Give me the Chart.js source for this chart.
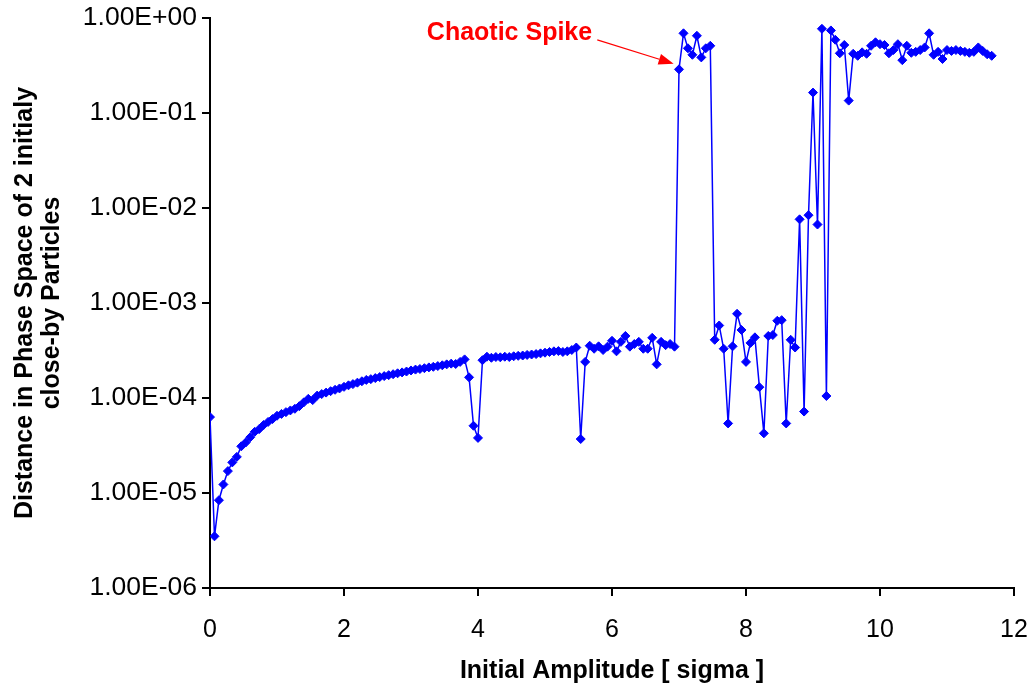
<!DOCTYPE html>
<html>
<head>
<meta charset="utf-8">
<script src="https://cdn.jsdelivr.net/npm/chart.js@4/dist/chart.umd.min.js"></script>
<style>
  html, body { margin: 0; padding: 0; background: #fff; }
</style>
</head>
<body>
<canvas id="chaosChart" width="1029" height="689"></canvas>
<script>
// initial amplitude in sigma (x) and phase-space distance (y)
const amplitude = [
  0, 0.067, 0.133, 0.2, 0.267, 0.333, 0.4, 0.467, 0.533, 0.6, 0.667, 0.733, 0.8, 0.867, 0.933,
  1, 1.067, 1.133, 1.2, 1.267, 1.333, 1.4, 1.467, 1.533, 1.6, 1.667, 1.733, 1.8, 1.867, 1.933,
  2, 2.067, 2.133, 2.2, 2.267, 2.333, 2.4, 2.467, 2.533, 2.6, 2.667, 2.733, 2.8, 2.867, 2.933,
  3, 3.067, 3.133, 3.2, 3.267, 3.333, 3.4, 3.467, 3.533, 3.6, 3.667, 3.733, 3.8, 3.867, 3.933,
  4, 4.067, 4.133, 4.2, 4.267, 4.333, 4.4, 4.467, 4.533, 4.6, 4.667, 4.733, 4.8, 4.867, 4.933,
  5, 5.067, 5.133, 5.2, 5.267, 5.333, 5.4, 5.467, 5.533, 5.6, 5.667, 5.733, 5.8, 5.867, 5.933,
  6, 6.067, 6.133, 6.2, 6.267, 6.333, 6.4, 6.467, 6.533, 6.6, 6.667, 6.733, 6.8, 6.867, 6.933,
  7, 7.067, 7.133, 7.2, 7.267, 7.333, 7.4, 7.467, 7.533, 7.6, 7.667, 7.733, 7.8, 7.867, 7.933,
  8, 8.067, 8.133, 8.2, 8.267, 8.333, 8.4, 8.467, 8.533, 8.6, 8.667, 8.733, 8.8, 8.867, 8.933,
  9, 9.067, 9.133, 9.2, 9.267, 9.333, 9.4, 9.467, 9.533, 9.6, 9.667, 9.733, 9.8, 9.867, 9.933,
  10, 10.067, 10.133, 10.2, 10.267, 10.333, 10.4, 10.467, 10.533, 10.6, 10.667, 10.733, 10.8, 10.867, 10.933,
  11, 11.067, 11.133, 11.2, 11.267, 11.333, 11.4, 11.467, 11.533, 11.6, 11.667
];

const distance = [
  6.3e-5, 3.5e-6, 8.4e-6, 1.23e-5, 1.7e-5, 2.1e-5, 2.4e-5, 3.1e-5, 3.4e-5, 3.86e-5, 4.4e-5, 4.7e-5, 5.2e-5, 5.6e-5, 6.0e-5,
  6.5e-5, 6.8e-5, 7.1e-5, 7.4e-5, 7.7e-5, 8.2e-5, 9.0e-5, 9.8e-5, 9.5e-5, 1.06e-4, 1.1e-4, 1.14e-4, 1.18e-4, 1.22e-4, 1.26e-4,
  1.31e-4, 1.36e-4, 1.4e-4, 1.45e-4, 1.5e-4, 1.55e-4, 1.58e-4, 1.62e-4, 1.66e-4, 1.7e-4, 1.74e-4, 1.78e-4, 1.82e-4, 1.86e-4, 1.9e-4,
  1.95e-4, 1.99e-4, 2.02e-4, 2.06e-4, 2.1e-4, 2.13e-4, 2.17e-4, 2.21e-4, 2.26e-4, 2.3e-4, 2.28e-4, 2.4e-4, 2.55e-4, 1.65e-4, 5.1e-5,
  3.8e-5, 2.5e-4, 2.72e-4, 2.65e-4, 2.7e-4, 2.68e-4, 2.72e-4, 2.7e-4, 2.75e-4, 2.78e-4, 2.8e-4, 2.84e-4, 2.87e-4, 2.9e-4, 2.95e-4,
  3.0e-4, 3.05e-4, 3.1e-4, 3.12e-4, 3.05e-4, 3.1e-4, 3.2e-4, 3.4e-4, 3.7e-5, 2.4e-4, 3.55e-4, 3.3e-4, 3.5e-4, 3.2e-4, 3.47e-4,
  4.0e-4, 3.1e-4, 3.9e-4, 4.5e-4, 3.47e-4, 3.7e-4, 3.9e-4, 3.3e-4, 3.3e-4, 4.3e-4, 2.26e-4, 3.9e-4, 3.6e-4, 3.7e-4, 3.47e-4,
  0.288, 0.69, 0.48, 0.41, 0.65, 0.385, 0.48, 0.51, 4.1e-4, 5.8e-4, 3.3e-4, 5.4e-5, 3.5e-4, 7.7e-4, 5.2e-4,
  2.4e-4, 3.8e-4, 4.35e-4, 1.3e-4, 4.25e-5, 4.5e-4, 4.6e-4, 6.5e-4, 6.6e-4, 5.4e-5, 4.1e-4, 3.4e-4, 7.6e-3, 7.2e-5, 8.4e-3,
  0.164, 6.7e-3, 0.77, 1.05e-4, 0.74, 0.59, 0.425, 0.52, 0.135, 0.42, 0.40, 0.435, 0.42, 0.51, 0.555,
  0.53, 0.52, 0.425, 0.46, 0.53, 0.36, 0.51, 0.43, 0.44, 0.46, 0.49, 0.69, 0.41, 0.44, 0.37,
  0.46, 0.45, 0.46, 0.45, 0.44, 0.43, 0.44, 0.49, 0.45, 0.415, 0.40
];

const yTickValues = [1e-6, 1e-5, 1e-4, 1e-3, 1e-2, 1e-1, 1];
const xTickValues = [0, 2, 4, 6, 8, 10, 12];

const xTitle = "Initial Amplitude [ sigma ]";
const yTitle = ["Distance in Phase Space of 2 initialy", "close-by Particles"];
const noteText = "Chaotic Spike";

const points = amplitude.map((a, i) => ({ x: a, y: distance[i] }));

Chart.defaults.font.family = "'Liberation Sans', Arial, Helvetica, sans-serif";
Chart.defaults.color = "#000";

// format like Excel scientific: 1.00E-03
function sciLabel(v) {
  const e = Math.round(Math.log10(v));
  const m = v / Math.pow(10, e);
  const sign = e < 0 ? "-" : "+";
  return m.toFixed(2) + "E" + sign + String(Math.abs(e)).padStart(2, "0");
}

// red label with arrow pointing at the spike
const spikeNote = {
  id: "spikeNote",
  afterDatasetsDraw(chart) {
    const { ctx, scales: { x, y } } = chart;
    const tx = x.getPixelForValue(4.47), ty = y.getPixelForValue(0.7);
    const x0 = x.getPixelForValue(5.78), y0 = y.getPixelForValue(0.59);
    const x1 = x.getPixelForValue(6.92), y1 = y.getPixelForValue(0.33);
    ctx.save();
    ctx.fillStyle = "#ff0000";
    ctx.strokeStyle = "#ff0000";
    ctx.font = "bold 25px 'Liberation Sans', Arial, sans-serif";
    ctx.textAlign = "center";
    ctx.textBaseline = "middle";
    ctx.fillText(noteText, tx, ty);

    const ang = Math.atan2(y1 - y0, x1 - x0);
    const headLen = 15, headW = 5.5;
    ctx.lineWidth = 1.3;
    ctx.beginPath();
    ctx.moveTo(x0, y0);
    ctx.lineTo(x1 - headLen * Math.cos(ang), y1 - headLen * Math.sin(ang));
    ctx.stroke();
    ctx.beginPath();
    ctx.moveTo(x1, y1);
    ctx.lineTo(x1 - headLen * Math.cos(ang) + headW * Math.sin(ang), y1 - headLen * Math.sin(ang) - headW * Math.cos(ang));
    ctx.lineTo(x1 - headLen * Math.cos(ang) - headW * Math.sin(ang), y1 - headLen * Math.sin(ang) + headW * Math.cos(ang));
    ctx.closePath();
    ctx.fill();
    ctx.restore();
  }
};

const ctx = document.getElementById("chaosChart").getContext("2d");

new Chart(ctx, {
  type: "scatter",
  data: {
    datasets: [{
      data: points,
      showLine: true,
      borderColor: "#0000ff",
      backgroundColor: "#0000ff",
      borderWidth: 1.5,
      pointStyle: "rectRot",
      pointRadius: 4.5,
      pointBorderWidth: 1,
      tension: 0
    }]
  },
  options: {
    responsive: false,
    animation: false,
    layout: { padding: { top: 18, right: 15, bottom: 0, left: 0 } },
    plugins: {
      legend: { display: false },
      tooltip: { enabled: false }
    },
    scales: {
      x: {
        type: "linear",
        min: 0,
        max: 12,
        afterBuildTicks: s => { s.ticks = xTickValues.map(v => ({ value: v })); },
        afterFit: s => { s.height = 101; s.paddingLeft = 0; s.paddingRight = 0; },
        ticks: {
          font: { size: 25 },
          padding: 19,
          maxRotation: 0
        },
        grid: {
          drawOnChartArea: false,
          drawTicks: true,
          tickLength: 8,
          color: "#000",
          lineWidth: 2
        },
        border: { display: true, color: "#000", width: 2 },
        title: {
          display: true,
          text: xTitle,
          font: { size: 25, weight: "bold" },
          padding: { top: 0, bottom: 3 }
        }
      },
      y: {
        type: "logarithmic",
        min: 1e-6,
        max: 1,
        afterBuildTicks: s => { s.ticks = yTickValues.map(v => ({ value: v })); },
        afterFit: s => { s.width = 210; s.paddingTop = 0; s.paddingBottom = 0; },
        ticks: {
          font: { size: 26.5 },
          padding: 5,
          callback: v => sciLabel(v)
        },
        grid: {
          drawOnChartArea: false,
          drawTicks: true,
          tickLength: 8,
          color: "#000",
          lineWidth: 2
        },
        border: { display: true, color: "#000", width: 2 },
        title: {
          display: true,
          text: yTitle,
          font: { size: 25, weight: "bold", lineHeight: 1.08 },
          padding: { top: 12, bottom: 0 }
        }
      }
    }
  },
  plugins: [spikeNote]
});
</script>
</body>
</html>
